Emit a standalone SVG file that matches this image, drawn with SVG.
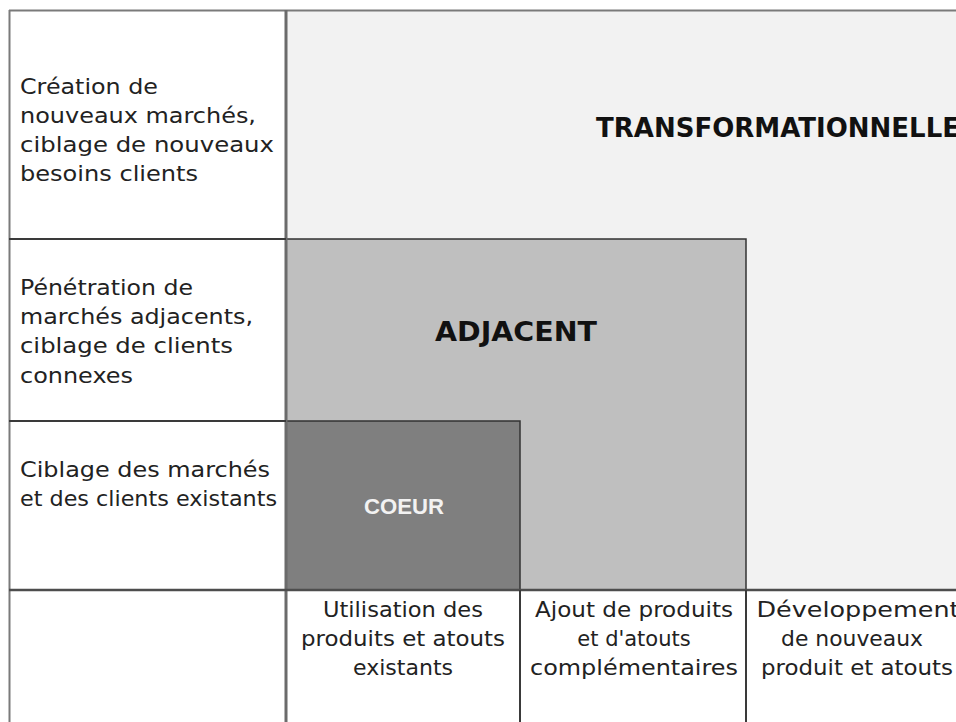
<svg xmlns="http://www.w3.org/2000/svg" width="956" height="722" viewBox="0 0 956 722">
<style>
.lbl{font-family:"DejaVu Sans","Liberation Sans",sans-serif;font-size:21px;fill:#222;}
.mid{text-anchor:middle;}
.big{font-family:"DejaVu Sans","Liberation Sans",sans-serif;font-weight:bold;font-size:27px;fill:#111;}
.coeur{font-family:"Liberation Sans","DejaVu Sans",sans-serif;font-weight:bold;font-size:22px;fill:#f2f2f2;text-anchor:middle;}
.zone{stroke:#333;stroke-width:1.5;}
.outer{stroke:#7a7a7a;stroke-width:2;fill:none;}
.inner{stroke:#3a3a3a;stroke-width:2;fill:none;}
</style>
<rect x="0" y="0" width="956" height="722" fill="#ffffff"/>
<g id="transformationnelle">
<rect x="286" y="10" width="670" height="580" fill="#f2f2f2"/>
<text class="big" x="596" y="137" textLength="364" lengthAdjust="spacingAndGlyphs">TRANSFORMATIONNELLE</text>
</g>
<g id="adjacent">
<rect class="zone" x="286" y="239" width="460" height="351" fill="#bfbfbf"/>
<text class="big mid" x="516" y="341" textLength="162" lengthAdjust="spacingAndGlyphs">ADJACENT</text>
</g>
<g id="coeur">
<rect class="zone" x="286" y="421" width="234" height="169" fill="#7f7f7f"/>
<text class="coeur" x="404" y="514" textLength="80" lengthAdjust="spacingAndGlyphs">COEUR</text>
</g>
<g id="connectors">
<line class="outer" x1="9" y1="10.5" x2="956" y2="10.5"/>
<line class="outer" x1="9.5" y1="10" x2="9.5" y2="722"/>
<line x1="286" y1="10" x2="286" y2="722" stroke="#6b6b6b" stroke-width="3"/>
<line class="inner" x1="9" y1="239" x2="286" y2="239"/>
<line class="inner" x1="9" y1="421" x2="286" y2="421"/>
<line x1="9" y1="590" x2="956" y2="590" stroke="#4d4d4d" stroke-width="2.5"/>
<line class="inner" x1="520" y1="590" x2="520" y2="722"/>
<line class="inner" x1="746" y1="590" x2="746" y2="722"/>
</g>
<g id="row-transformationnelle">
<text class="lbl" x="20" y="94" textLength="138" lengthAdjust="spacingAndGlyphs">Création de</text>
<text class="lbl" x="20" y="123" textLength="236" lengthAdjust="spacingAndGlyphs">nouveaux marchés,</text>
<text class="lbl" x="20" y="152" textLength="254" lengthAdjust="spacingAndGlyphs">ciblage de nouveaux</text>
<text class="lbl" x="20" y="181" textLength="178" lengthAdjust="spacingAndGlyphs">besoins clients</text>
</g>
<g id="row-adjacent">
<text class="lbl" x="20" y="295" textLength="173" lengthAdjust="spacingAndGlyphs">Pénétration de</text>
<text class="lbl" x="20" y="324" textLength="233" lengthAdjust="spacingAndGlyphs">marchés adjacents,</text>
<text class="lbl" x="20" y="353" textLength="213" lengthAdjust="spacingAndGlyphs">ciblage de clients</text>
<text class="lbl" x="20" y="383" textLength="113" lengthAdjust="spacingAndGlyphs">connexes</text>
</g>
<g id="row-coeur">
<text class="lbl" x="20" y="477" textLength="250" lengthAdjust="spacingAndGlyphs">Ciblage des marchés</text>
<text class="lbl" x="20" y="506" textLength="257" lengthAdjust="spacingAndGlyphs">et des clients existants</text>
</g>
<g id="col-existants">
<text class="lbl mid" x="403" y="617" textLength="160" lengthAdjust="spacingAndGlyphs">Utilisation des</text>
<text class="lbl mid" x="403" y="646" textLength="204" lengthAdjust="spacingAndGlyphs">produits et atouts</text>
<text class="lbl mid" x="403" y="675" textLength="100" lengthAdjust="spacingAndGlyphs">existants</text>
</g>
<g id="col-complementaires">
<text class="lbl mid" x="634" y="617" textLength="198" lengthAdjust="spacingAndGlyphs">Ajout de produits</text>
<text class="lbl mid" x="634" y="646">et d'atouts</text>
<text class="lbl mid" x="634" y="675" textLength="208" lengthAdjust="spacingAndGlyphs">complémentaires</text>
</g>
<g id="col-nouveaux">
<text class="lbl mid" x="858" y="617" textLength="203" lengthAdjust="spacingAndGlyphs">Développement</text>
<text class="lbl mid" x="852" y="646" textLength="142" lengthAdjust="spacingAndGlyphs">de nouveaux</text>
<text class="lbl mid" x="857" y="675" textLength="192" lengthAdjust="spacingAndGlyphs">produit et atouts</text>
</g>
</svg>
